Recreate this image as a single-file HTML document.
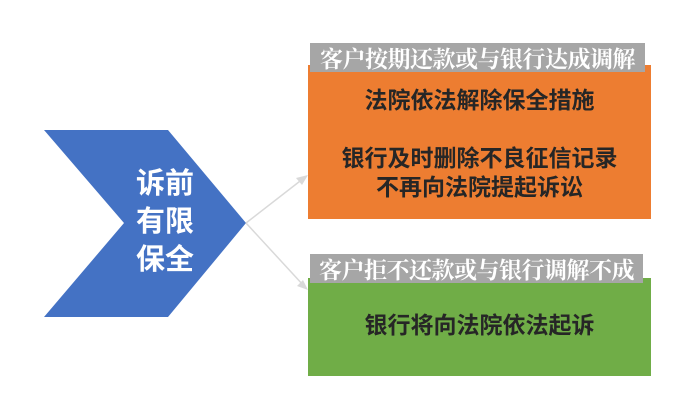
<!DOCTYPE html>
<html><head><meta charset="utf-8"><style>
body{margin:0;width:687px;height:400px;background:#fff;position:relative;overflow:hidden;font-family:"Liberation Sans","Noto Sans CJK SC",sans-serif}
.box{position:absolute}
.lbl{position:absolute;background:#a6a6a6;color:#fff;font-size:23px;line-height:29px;text-align:center;white-space:nowrap;font-family:"Noto Serif CJK SC","Noto Sans CJK SC",serif;font-weight:bold;letter-spacing:-0.5px}
.t{position:absolute;left:0;right:0;text-align:center;font-size:23px;line-height:28px;font-weight:bold;color:#262626;white-space:nowrap}
</style></head><body>
<svg width="687" height="400" style="position:absolute;left:0;top:0">
<polygon points="44,130 168,130 246,223 168,317 44,317 124,223" fill="#4472c4"/>
<line x1="246" y1="223" x2="304" y2="178" stroke="#d9d9d9" stroke-width="1.5"/>
<polygon points="308,175 296,178 302,185" fill="#d9d9d9"/>
<line x1="246" y1="223" x2="304" y2="286" stroke="#d9d9d9" stroke-width="1.5"/>
<polygon points="308,290 297,286 303,280" fill="#d9d9d9"/>
<text x="165" y="193" fill="#fff" font-size="29" font-weight="bold" text-anchor="middle" font-family="Noto Sans CJK SC,sans-serif">诉前</text>
<text x="165" y="231" fill="#fff" font-size="29" font-weight="bold" text-anchor="middle" font-family="Noto Sans CJK SC,sans-serif">有限</text>
<text x="165" y="269" fill="#fff" font-size="29" font-weight="bold" text-anchor="middle" font-family="Noto Sans CJK SC,sans-serif">保全</text>
</svg>
<div class="box" style="left:308px;top:65px;width:343px;height:154px;background:#ed7d31">
<div class="t" style="top:21px">法院依法解除保全措施</div>
<div class="t" style="top:79px">银行及时删除不良征信记录</div>
<div class="t" style="top:108px">不再向法院提起诉讼</div>
</div>
<div class="lbl" style="left:310px;top:43px;width:335px">客户按期还款或与银行达成调解</div>
<div class="box" style="left:308px;top:278px;width:343px;height:98px;background:#70ad47">
<div class="t" style="top:33px">银行将向法院依法起诉</div>
</div>
<div class="lbl" style="left:310px;top:254px;width:333px">客户拒不还款或与银行调解不成</div>
</body></html>
